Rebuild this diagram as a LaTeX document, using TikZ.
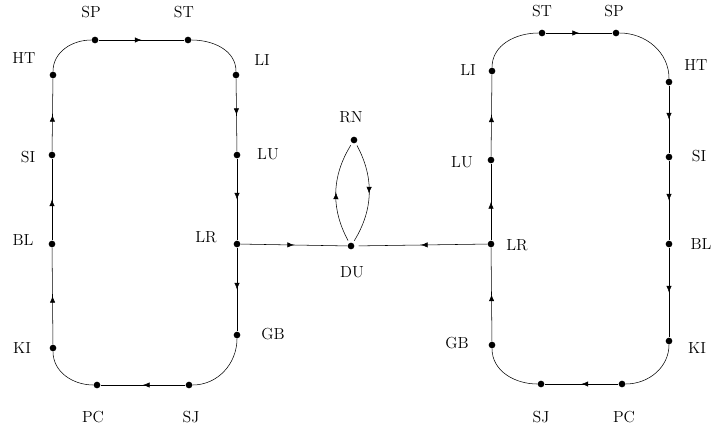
\documentclass[tikz,border=0pt]{standalone}
\usetikzlibrary{arrows.meta, decorations.markings}

\tikzset{
  station/.style = {circle, fill, inner sep=0pt, minimum size=5pt},
  tag/.style = {font=\large},
  midarrow/.style = {postaction={decorate},
    decoration={markings, mark=at position 0.5 with {\arrow{Latex[length=5pt, width=4pt]}}}},
}

\begin{document}
\begin{tikzpicture}[x=0.75pt, y=0.75pt]
                \useasboundingbox (0,0) rectangle (712,-432);

                % left loop
                \node[station] (aSP) at (95,-40) {};
                \node[station] (aST) at (188,-40) {};
                \node[station] (aHT) at (53,-75) {};
                \node[station] (aLI) at (236,-75) {};
                \node[station] (aSI) at (52,-155) {};
                \node[station] (aLU) at (237,-155) {};
                \node[station] (aBL) at (52,-244) {};
                \node[station] (aLR) at (237,-244) {};
                \node[station] (aKI) at (53,-348) {};
                \node[station] (aGB) at (237,-335) {};
                \node[station] (aPC) at (97,-385) {};
                \node[station] (aSJ) at (189,-385) {};

                \node[tag] (aSPl) at (91,-12) {SP};
                \node[tag] (aSTl) at (184,-12) {ST};
                \node[tag] (aHTl) at (24,-58) {HT};
                \node[tag] (aLIl) at (262,-60) {LI};
                \node[tag] (aSIl) at (28,-157) {SI};
                \node[tag] (aLUl) at (268,-154) {LU};
                \node[tag] (aBLl) at (23,-240) {BL};
                \node[tag] (aLRl) at (206,-237) {LR};
                \node[tag] (aKIl) at (22,-348) {KI};
                \node[tag] (aGBl) at (273,-334) {GB};
                \node[tag] (aPCl) at (93,-417) {PC};
                \node[tag] (aSJl) at (191,-417) {SJ};

                \draw[midarrow] (aSP) -- (aST);
                \draw (aST) to[out=0, in=90] (aLI);
                \draw[midarrow] (aLI) -- (aLU);
                \draw[midarrow] (aLU) -- (aLR);
                \draw[midarrow] (aLR) -- (aGB);
                \draw (aGB) to[out=-90, in=0] (aSJ);
                \draw[midarrow] (aSJ) -- (aPC);
                \draw (aPC) to[out=180, in=-90] (aKI);
                \draw[midarrow] (aKI) -- (aBL);
                \draw[midarrow] (aBL) -- (aSI);
                \draw[midarrow] (aSI) -- (aHT);
                \draw (aHT) to[out=90, in=180] (aSP);

                % right loop
                \node[station] (bLI) at (492,-71) {};
                \node[station] (bST) at (542,-33) {};
                \node[station] (bSP) at (616,-33) {};
                \node[station] (bHT) at (669,-82) {};
                \node[station] (bLU) at (491,-160) {};
                \node[station] (bSI) at (669,-157) {};
                \node[station] (bLR) at (491,-244) {};
                \node[station] (bBL) at (669,-244) {};
                \node[station] (bGB) at (492,-345) {};
                \node[station] (bKI) at (669,-341) {};
                \node[station] (bSJ) at (541,-384) {};
                \node[station] (bPC) at (622,-384) {};

                \node[tag] (bSTl) at (542,-11) {ST};
                \node[tag] (bSPl) at (614,-11) {SP};
                \node[tag] (bLIl) at (468,-70) {LI};
                \node[tag] (bHTl) at (696,-65) {HT};
                \node[tag] (bLUl) at (462,-162) {LU};
                \node[tag] (bSIl) at (699,-156) {SI};
                \node[tag] (bLRl) at (517,-245) {LR};
                \node[tag] (bBLl) at (701,-244) {BL};
                \node[tag] (bGBl) at (457,-343) {GB};
                \node[tag] (bKIl) at (697,-348) {KI};
                \node[tag] (bSJl) at (541,-417) {SJ};
                \node[tag] (bPCl) at (624,-417) {PC};

                \draw[midarrow] (bST) -- (bSP);
                \draw (bSP) to[out=0, in=90] (bHT);
                \draw[midarrow] (bHT) -- (bSI);
                \draw[midarrow] (bSI) -- (bBL);
                \draw[midarrow] (bBL) -- (bKI);
                \draw (bKI) to[out=-90, in=0] (bPC);
                \draw[midarrow] (bPC) -- (bSJ);
                \draw (bSJ) to[out=180, in=-90] (bGB);
                \draw[midarrow] (bGB) -- (bLR);
                \draw[midarrow] (bLR) -- (bLU);
                \draw[midarrow] (bLU) -- (bLI);
                \draw (bLI) to[out=90, in=180] (bST);

                % middle
                \node[station] (DU) at (351,-246) {};
                \node[station] (RN) at (354,-140) {};
                \node[tag] (DUl) at (352,-272) {DU};
                \node[tag] (RNl) at (351,-117) {RN};

                \draw[midarrow] (aLR) -- (DU);
                \draw[midarrow, shorten >=3pt] (bLR) -- (DU);
                \draw[midarrow, shorten <=2pt, shorten >=2pt] (DU) to[bend left=30] (RN);
                \draw[midarrow, shorten <=2pt, shorten >=2pt] (RN) to[bend left=30] (DU);

            \end{tikzpicture}
\end{document}
